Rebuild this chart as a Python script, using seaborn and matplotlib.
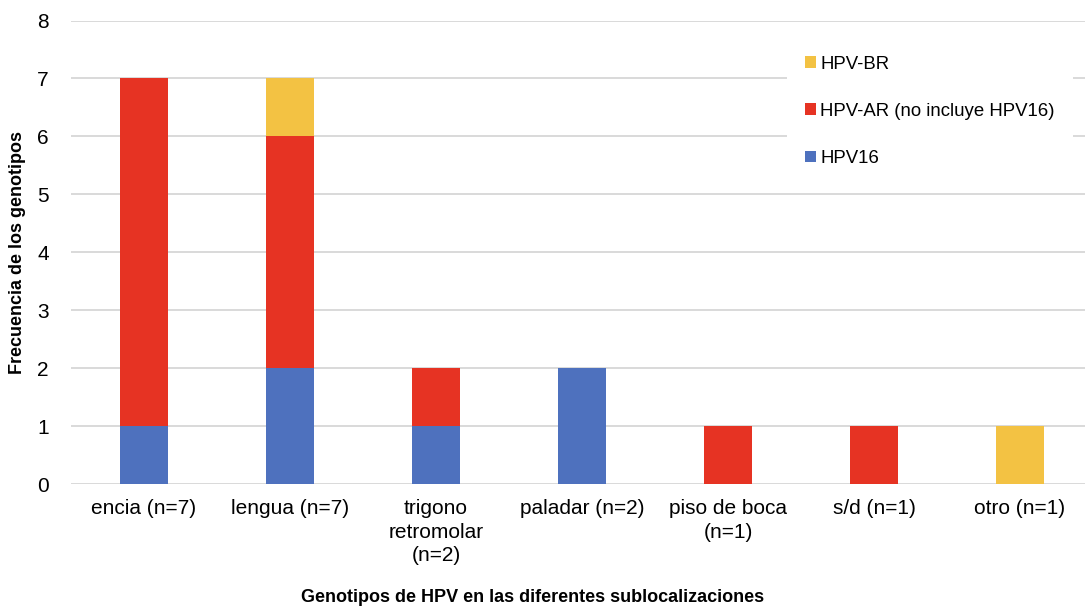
import numpy as np
import pandas as pd
import matplotlib
matplotlib.use("Agg")
import matplotlib.pyplot as plt
from matplotlib.patches import Patch
import seaborn as sns

# Sublocations and genotype counts
categories = ["encia (n=7)", "lengua (n=7)", "trigono\nretromolar\n(n=2)", "paladar (n=2)",
              "piso de boca\n(n=1)", "s/d (n=1)", "otro (n=1)"]
hpv16 = [1, 2, 1, 2, 0, 0, 0]
hpv_ar = [6, 4, 1, 0, 1, 1, 0]
hpv_br = [0, 1, 0, 0, 0, 0, 1]

series_names = ["HPV16", "HPV-AR (no incluye HPV16)", "HPV-BR"]
colors = ["#4E71BE", "#E63323", "#F3C243"]

sns.set_theme(style="white")
plt.rcParams["font.family"] = ["Liberation Sans", "DejaVu Sans"]
plt.rcParams["text.color"] = "black"
plt.rcParams["axes.labelcolor"] = "black"

fig = plt.figure(figsize=(10.85, 6.1), dpi=100)
ax = fig.add_axes([71 / 1085, 126 / 610, 1022 / 1085, 463.5 / 610])

df = pd.DataFrame({"cat": categories, "HPV16": hpv16, "AR": hpv_ar, "BR": hpv_br})
# cumulative heights, drawn from the top layer down so lower layers overlay
lvl1 = df["HPV16"].to_numpy()
lvl2 = lvl1 + df["AR"].to_numpy()
lvl3 = lvl2 + df["BR"].to_numpy()

for heights, col in [(lvl3, colors[2]), (lvl2, colors[1]), (lvl1, colors[0])]:
    sns.barplot(x=df["cat"], y=heights, color=col, width=0.325, linewidth=0,
                saturation=1, ax=ax, zorder=3)

ax.set_ylim(0, 8)
ax.set_xlim(-0.5, 6.5)
ax.set_yticks(range(0, 9))
ax.yaxis.grid(True, color="#D9D9D9", linewidth=1.4, zorder=0)
ax.set_axisbelow(True)
for s in ax.spines.values():
    s.set_visible(False)
ax.tick_params(axis="both", length=0, labelsize=15, colors="#000000")
ax.tick_params(axis="y", pad=16)
ax.tick_params(axis="x", pad=11)
for lab in ax.get_xticklabels():
    lab.set_linespacing(1.3)

ax.set_xlabel("Genotipos de HPV en las diferentes sublocalizaciones",
              fontsize=13, fontweight="bold", va="center", color="black")
ax.set_ylabel("Frecuencia de los genotipos", fontsize=13, fontweight="bold",
              va="center", color="black")
ax.xaxis.set_label_coords((533 - 71) / 1022, -(597 - 484) / 463.5)
ax.yaxis.set_label_coords((18 - 71) / 1022, (484 - 252) / 463.5)

handles = [Patch(facecolor=c, edgecolor="none") for c in colors]
leg = ax.legend(handles[::-1], series_names[::-1], loc="upper left",
                bbox_to_anchor=((787 - 71) / 1022, 1 - (38 - 20.5) / 463.5),
                frameon=True, facecolor="white", edgecolor="none", framealpha=1,
                fontsize=13.4, handlelength=0.6, handleheight=0.6, handletextpad=0.25,
                labelspacing=1.62, borderpad=0.95, borderaxespad=0, labelcolor="black")

fig.savefig("out.png", dpi=100)
